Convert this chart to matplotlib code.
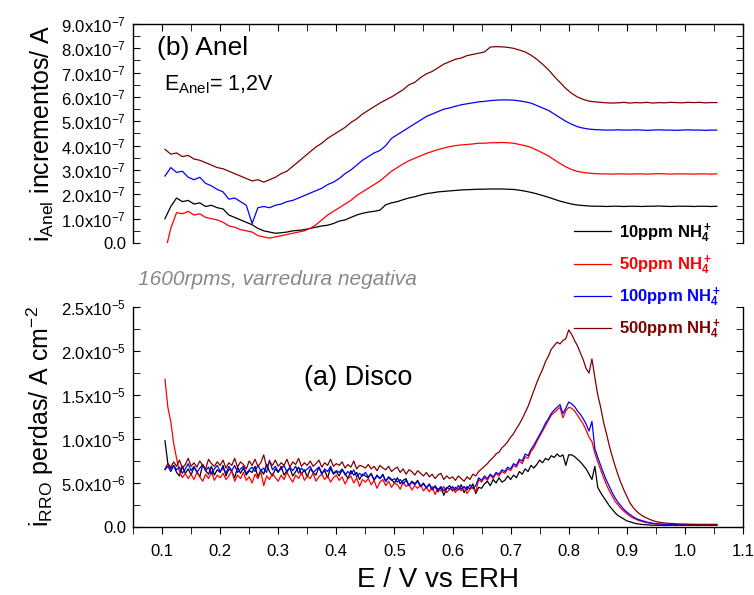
import numpy as np
import matplotlib
matplotlib.use('Agg')
import matplotlib.pyplot as plt
from matplotlib.ticker import MultipleLocator, AutoMinorLocator, FuncFormatter

plt.rcParams['font.family'] = 'Liberation Sans'
plt.rcParams['mathtext.fontset'] = 'custom'
plt.rcParams['mathtext.rm'] = 'Liberation Sans'
plt.rcParams['mathtext.it'] = 'Liberation Sans:italic'
plt.rcParams['mathtext.bf'] = 'Liberation Sans:bold'
plt.rcParams['mathtext.default'] = 'rm'

# potenciais (V vs ERH)
e_anel = np.round(np.arange(0.105, 1.056, 0.01), 3)
e_disco = np.round(np.arange(0.105, 1.0555, 0.005), 3)

concentracoes = ['10ppm', '50ppm', '100ppm', '500ppm']
cores = ['#000000', '#ff0000', '#0000ff', '#800000']

# corrente do anel (x1e-7 A)
anel_10 = [1.0, 1.5, 1.85, 1.7, 1.75, 1.6, 1.65, 1.5, 1.55, 1.45,
           1.4, 1.15, 1.05, 0.95, 0.85, 0.75, 0.6, 0.5, 0.45, 0.4,
           0.42, 0.45, 0.5, 0.52, 0.55, 0.6, 0.65, 0.7, 0.73, 0.8,
           0.9, 0.95, 1.05, 1.15, 1.22, 1.27, 1.3, 1.35, 1.57, 1.65,
           1.7, 1.78, 1.85, 1.9, 1.97, 2.03, 2.06, 2.1, 2.12, 2.14,
           2.16, 2.18, 2.19, 2.2, 2.21, 2.21, 2.22, 2.22, 2.22, 2.21,
           2.2, 2.17, 2.13, 2.08, 2.02, 1.95, 1.88, 1.8, 1.72, 1.66,
           1.6, 1.56, 1.54, 1.52, 1.51, 1.51, 1.5, 1.51, 1.51, 1.5,
           1.51, 1.51, 1.5, 1.51, 1.51, 1.52, 1.51, 1.5, 1.51, 1.51,
           1.51, 1.5, 1.51, 1.51, 1.5, 1.51]
anel_50 = [-0.4, 0.6, 1.25, 1.2, 1.3, 1.15, 1.2, 1.05, 1.0, 0.95,
           0.85, 0.7, 0.65, 0.55, 0.5, 0.45, 0.3, 0.25, 0.2, 0.25,
           0.3, 0.35, 0.4, 0.45, 0.5, 0.6, 0.75, 0.95, 1.15, 1.3,
           1.45, 1.6, 1.75, 1.95, 2.1, 2.25, 2.4, 2.55, 2.75, 2.95,
           3.1, 3.25, 3.38, 3.48, 3.58, 3.68, 3.76, 3.84, 3.9, 3.96,
           4.0, 4.03, 4.05, 4.07, 4.1, 4.1, 4.12, 4.12, 4.13, 4.12,
           4.1, 4.05, 4.0, 3.93, 3.82, 3.7, 3.58, 3.42, 3.27, 3.13,
           3.02, 2.94, 2.9, 2.87, 2.85, 2.84, 2.84, 2.83, 2.84, 2.84,
           2.83, 2.84, 2.84, 2.83, 2.84, 2.85, 2.84, 2.83, 2.84, 2.84,
           2.84, 2.83, 2.84, 2.84, 2.83, 2.84]
anel_100 = [2.75, 3.1, 2.9, 2.95, 2.7, 2.6, 2.7, 2.45, 2.35, 2.2,
            2.1, 1.8, 1.85, 1.7, 1.55, 0.8, 1.45, 1.5, 1.45, 1.55,
            1.6, 1.7, 1.75, 1.85, 1.95, 2.05, 2.15, 2.25, 2.4, 2.5,
            2.65, 2.85, 3.0, 3.2, 3.4, 3.55, 3.7, 3.8, 4.0, 4.3,
            4.45, 4.6, 4.75, 4.9, 5.05, 5.2, 5.3, 5.4, 5.5, 5.55,
            5.62, 5.68, 5.72, 5.76, 5.8, 5.82, 5.85, 5.87, 5.88, 5.88,
            5.87, 5.84, 5.8, 5.75, 5.65, 5.55, 5.45, 5.3, 5.15, 5.0,
            4.88, 4.78, 4.72, 4.68, 4.66, 4.65, 4.64, 4.64, 4.65, 4.64,
            4.64, 4.65, 4.64, 4.63, 4.64, 4.65, 4.64, 4.64, 4.63, 4.64,
            4.65, 4.64, 4.64, 4.63, 4.64, 4.64]
anel_500 = [3.85, 3.65, 3.7, 3.55, 3.6, 3.45, 3.4, 3.3, 3.2, 3.1,
            3.05, 2.95, 2.85, 2.75, 2.65, 2.55, 2.6, 2.5, 2.6, 2.7,
            2.85, 2.95, 3.15, 3.35, 3.55, 3.75, 3.95, 4.1, 4.3, 4.45,
            4.6, 4.75, 4.95, 5.1, 5.3, 5.45, 5.6, 5.75, 5.88, 6.0,
            6.15, 6.3, 6.5, 6.6, 6.8, 6.95, 7.05, 7.2, 7.35, 7.45,
            7.55, 7.6, 7.7, 7.75, 7.8, 7.85, 8.05, 8.07, 8.06, 8.04,
            8.0, 7.93, 7.85, 7.72, 7.55, 7.35, 7.12, 6.85, 6.6, 6.35,
            6.15, 6.0, 5.9, 5.83, 5.8, 5.78, 5.76, 5.75, 5.76, 5.78,
            5.75, 5.77, 5.76, 5.78, 5.75, 5.77, 5.76, 5.78, 5.77, 5.76,
            5.78, 5.77, 5.78, 5.76, 5.77, 5.77]

# corrente do disco (x1e-6 A cm-2)
disco_10 = [9.8, 7.2, 6.6, 7.0, 6.2, 5.8, 6.9, 6.1, 6.6, 5.9,
            6.8, 6.3, 5.7, 7.1, 6.4, 6.0, 6.9, 5.9, 6.5, 6.2,
            7.0, 5.8, 6.6, 6.3, 5.6, 6.8, 6.1, 6.7, 5.9, 6.4,
            6.2, 6.9, 5.7, 6.5, 6.0, 7.1, 6.3, 5.8, 6.6, 6.2,
            6.9, 5.9, 6.4, 6.7, 5.8, 6.3, 6.8, 6.0, 6.5, 5.7,
            6.6, 6.2, 5.9, 6.8, 6.1, 6.4, 5.6, 6.7, 6.0, 6.3,
            5.8, 6.5, 6.1, 5.5, 6.4, 5.9, 6.2, 5.4, 6.0, 5.8,
            5.6, 6.1, 5.3, 5.9, 5.5, 6.0, 5.2, 5.7, 5.4, 5.0,
            5.6, 4.9, 5.3, 5.5, 4.7, 5.2, 4.9, 5.3, 4.6, 5.0,
            4.4, 4.9, 4.2, 4.6, 4.0, 4.5, 3.6, 4.4, 4.7, 4.1,
            4.5, 4.2, 4.8, 3.9, 4.6, 4.3, 4.9, 3.8, 4.5, 4.4,
            4.9, 5.2, 4.7, 5.4, 5.0, 5.6, 5.1, 5.3, 5.8, 5.4,
            5.9, 5.6, 6.3, 6.0, 6.6, 6.3, 7.0, 6.7, 7.1, 7.6,
            7.3, 7.8, 7.6, 8.1, 7.9, 8.3, 8.0, 8.2, 7.0, 8.2,
            8.2, 8.0, 7.7, 7.4, 7.0, 6.6, 6.0, 5.4, 6.9, 4.5,
            3.9, 3.4, 2.9, 2.4, 2.0, 1.6, 1.3, 1.1, 0.9, 0.7,
            0.6, 0.5, 0.4, 0.35, 0.3, 0.27, 0.25, 0.22, 0.2, 0.2,
            0.18, 0.2, 0.17, 0.19, 0.18, 0.2, 0.17, 0.19, 0.18, 0.2,
            0.19, 0.18, 0.2, 0.17, 0.19, 0.2, 0.18, 0.19, 0.17, 0.19,
            0.18]
disco_50 = [16.8, 13.6, 12.0, 9.5, 7.8, 6.3, 5.6, 6.1, 5.5, 6.0,
            5.4, 6.2, 5.7, 5.2, 6.0, 5.5, 6.3, 5.3, 5.9, 5.6,
            6.1, 5.4, 5.8, 6.4, 5.2, 5.9, 5.5, 6.2, 5.3, 5.7,
            5.0, 6.0, 5.5, 6.3, 4.7, 5.8, 5.4, 6.1, 5.6, 5.2,
            5.9, 5.4, 6.2, 5.6, 5.1, 5.9, 5.5, 6.2, 5.3, 5.8,
            5.5, 6.1, 5.2, 5.7, 6.0, 5.4, 5.8, 5.1, 5.6, 5.9,
            5.3, 5.7, 4.9, 5.5, 5.8, 5.0, 5.6, 4.6, 5.4, 5.1,
            5.5, 4.8, 5.3, 4.4, 5.1, 5.4, 4.7, 5.2, 4.5, 5.0,
            4.8, 4.3, 5.1, 4.6, 4.9, 4.2, 4.7, 4.4, 4.8, 4.1,
            4.5, 4.0, 4.6, 3.7, 4.4, 4.1, 4.6, 3.9, 4.3, 4.5,
            3.9, 4.4, 4.1, 4.6, 3.8, 4.3, 4.5, 4.0, 5.4, 5.1,
            5.6, 5.3, 5.9, 5.5, 6.1, 5.8, 6.3, 6.1, 6.6, 6.4,
            7.0, 6.8, 7.5, 7.2, 8.0, 7.8, 8.6, 9.0, 9.7, 10.3,
            10.9, 11.5, 12.1, 12.7, 13.0, 13.3, 13.6, 12.4, 13.2, 13.6,
            13.5, 13.2, 12.7, 12.2, 11.7, 11.0, 10.2, 9.7, 8.4, 7.4,
            6.5, 5.6, 4.8, 4.1, 3.5, 2.9, 2.5, 2.1, 1.8, 1.5,
            1.25, 1.05, 0.9, 0.75, 0.65, 0.55, 0.48, 0.42, 0.38, 0.34,
            0.31, 0.29, 0.28, 0.27, 0.26, 0.26, 0.25, 0.25, 0.24, 0.25,
            0.24, 0.25, 0.24, 0.25, 0.24, 0.25, 0.24, 0.25, 0.24, 0.25,
            0.24]
disco_100 = [6.5, 6.9, 6.3, 7.0, 6.5, 6.8, 6.1, 6.6, 7.2, 6.4,
             6.9, 6.2, 6.7, 7.1, 6.4, 6.8, 6.0, 6.6, 7.0, 6.3,
             6.7, 6.1, 6.9, 6.4, 7.0, 6.2, 6.6, 6.9, 6.1, 6.5,
             6.8, 6.3, 7.0, 6.4, 6.7, 6.2, 7.6, 6.5, 6.9, 6.3,
             6.6, 7.0, 6.2, 6.8, 6.4, 6.9, 6.1, 6.7, 6.3, 6.6,
             6.9, 6.2, 6.5, 6.8, 6.0, 6.6, 6.3, 6.9, 6.1, 6.4,
             6.2, 6.6, 5.9, 6.3, 6.0, 6.5, 5.7, 6.1, 5.8, 6.2,
             5.7, 6.0, 5.4, 5.8, 5.5, 5.9, 5.2, 5.6, 5.3, 5.5,
             5.1, 5.4, 4.9, 5.3, 4.7, 5.1, 4.8, 5.2, 4.6, 4.9,
             4.5, 4.8, 4.3, 4.7, 4.2, 4.6, 4.1, 4.5, 4.3, 4.6,
             4.2, 4.7, 4.3, 4.6, 4.2, 4.8, 4.4, 4.7, 5.6, 5.3,
             5.8, 5.5, 6.0, 5.7, 6.2, 6.0, 6.5, 6.3, 6.8, 6.6,
             7.2, 7.0, 7.7, 7.5, 8.3, 8.1, 8.8, 9.3, 9.9, 10.5,
             11.1, 11.8, 12.3, 12.9, 13.3, 13.6, 13.9, 12.9, 13.5, 14.2,
             14.0, 13.7, 13.2, 12.8, 12.3, 11.7, 10.9, 12.0, 8.9, 7.9,
             7.0, 6.1, 5.3, 4.6, 3.9, 3.3, 2.8, 2.4, 2.0, 1.7,
             1.45, 1.2, 1.0, 0.85, 0.75, 0.65, 0.55, 0.48, 0.42, 0.38,
             0.35, 0.32, 0.3, 0.29, 0.28, 0.27, 0.27, 0.26, 0.26, 0.25,
             0.26, 0.25, 0.26, 0.25, 0.26, 0.25, 0.26, 0.25, 0.26, 0.25,
             0.25]
disco_500 = [6.6, 7.2, 6.8, 7.4, 6.9, 7.6, 6.7, 7.1, 7.8, 6.9,
             7.3, 6.8, 7.5, 7.0, 6.6, 7.7, 7.2, 6.9, 7.4, 7.0,
             7.6, 6.7, 7.3, 7.0, 7.8, 6.8, 7.4, 7.1, 6.6, 7.5,
             7.0, 7.7, 6.9, 7.3, 8.2, 6.8, 7.4, 7.0, 7.6, 6.9,
             7.3, 7.0, 7.7, 6.8, 7.4, 7.1, 7.8, 6.9, 7.3, 7.0,
             7.5, 6.9, 7.2, 7.6, 6.8, 7.3, 7.0, 7.7, 6.9, 7.2,
             7.0, 7.4, 6.7, 7.1, 6.8, 7.5, 6.6, 7.0, 6.9, 6.7,
             7.1, 6.6, 6.9, 6.4, 7.0, 6.7, 6.5, 6.9, 6.3, 6.6,
             6.8, 6.2, 6.6, 6.0, 6.5, 6.3, 5.9, 6.4, 6.1, 5.8,
             6.2, 5.7, 6.0, 5.5, 5.9, 6.1, 5.4, 5.8, 5.5, 5.7,
             5.3, 5.8, 5.5, 5.2, 5.7, 5.4, 6.0, 5.8, 6.3, 6.6,
             6.9, 7.2, 7.6, 7.9, 8.3, 8.5, 9.0, 9.3, 9.7, 10.2,
             10.6, 11.2, 11.7, 12.3, 13.0, 13.7, 14.6, 15.5, 16.4, 17.2,
             17.9, 18.8, 19.4, 20.2, 20.6, 21.0, 20.8, 21.2, 21.4, 22.4,
             21.9, 21.2, 20.6, 19.8, 19.0, 18.0, 17.5, 19.1, 17.0, 15.0,
             13.6, 11.9, 10.6, 9.2, 8.0, 6.9, 5.9, 5.0, 4.2, 3.5,
             2.8, 2.3, 1.9, 1.6, 1.35, 1.15, 1.0, 0.85, 0.72, 0.62,
             0.55, 0.5, 0.46, 0.42, 0.4, 0.38, 0.36, 0.35, 0.34, 0.33,
             0.32, 0.31, 0.31, 0.3, 0.3, 0.3, 0.29, 0.29, 0.3, 0.29,
             0.3]

anel = [anel_10, anel_50, anel_100, anel_500]
disco = [disco_10, disco_50, disco_100, disco_500]


def fmt_sci(v, pos):
    if abs(v) < 1e-15:
        return '0.0'
    e = int(np.floor(np.log10(abs(v)) + 1e-9))
    m = v / 10.0 ** e
    return r'$\mathregular{%.1fx10^{%d}}$' % (m, e)


fig = plt.figure(figsize=(7.54, 5.95), dpi=100)
ax_b = fig.add_axes([0.1764, 0.5916, 0.809, 0.3681])
ax_a = fig.add_axes([0.1764, 0.1143, 0.809, 0.3697])

linhas = []
for i in range(4):
    ax_b.plot(e_anel, np.array(anel[i]) * 1e-7, color=cores[i], lw=0.9)
    ln, = ax_a.plot(e_disco, np.array(disco[i]) * 1e-6, color=cores[i], lw=0.9)
    linhas.append(ln)

for ax in (ax_a, ax_b):
    ax.set_xlim(0.05, 1.1)
    ax.xaxis.set_major_locator(MultipleLocator(0.1))
    ax.xaxis.set_minor_locator(MultipleLocator(0.05))
    ax.yaxis.set_minor_locator(AutoMinorLocator(2))
    ax.yaxis.set_major_formatter(FuncFormatter(fmt_sci))
    ax.tick_params(axis='y', which='both', direction='in', left=True, right=True,
                   labelsize=12, pad=5, length=5)
    for s in ax.spines.values():
        s.set_linewidth(1.0)

# painel superior: anel
ax_b.set_ylim(0, 9e-7)
ax_b.yaxis.set_major_locator(MultipleLocator(1e-7))
ax_b.spines['bottom'].set_visible(False)
ax_b.tick_params(axis='x', which='both', top=True, bottom=False, labelbottom=False,
                 direction='in', length=5)
ax_b.set_ylabel(r'i$_{\mathregular{Anel}}$ incrementos/ A', fontsize=18, labelpad=4)
ax_b.text(0.04, 0.86, '(b) Anel', transform=ax_b.transAxes, fontsize=19)
ax_b.text(0.05, 0.695, r'E$_{\mathregular{Anel}}$= 1,2V', transform=ax_b.transAxes, fontsize=15.5)

# painel inferior: disco
ax_a.set_ylim(0, 2.5e-5)
ax_a.yaxis.set_major_locator(MultipleLocator(5e-6))
ax_a.spines['top'].set_visible(False)
ax_a.tick_params(axis='x', which='both', top=False, direction='out', length=5,
                 labelsize=12, pad=7)
ax_a.set_ylabel(r'i$_{\mathregular{RRO}}$ perdas/ A cm$^{\mathregular{-2}}$', fontsize=18, labelpad=4)
ax_a.set_xlabel('E / V vs ERH', fontsize=20, labelpad=6)
ax_a.text(0.28, 0.645, '(a) Disco', transform=ax_a.transAxes, fontsize=19.5)

fig.text(138 / 754, 1 - 285 / 595, '1600rpms, varredura negativa', fontsize=15,
         style='italic', color='#888888')

rotulos = [c + r' NH$\mathbf{_4^+}$' for c in concentracoes]
fig.legend(linhas, rotulos, loc='upper left', bbox_to_anchor=(574 / 754, 1 - 221 / 595),
           frameon=False, prop={'weight': 'bold', 'size': 12}, labelcolor='linecolor',
           handlelength=2.2, handletextpad=0.5, labelspacing=0.5, borderpad=0,
           borderaxespad=0)

fig.savefig('out.png', dpi=100)
